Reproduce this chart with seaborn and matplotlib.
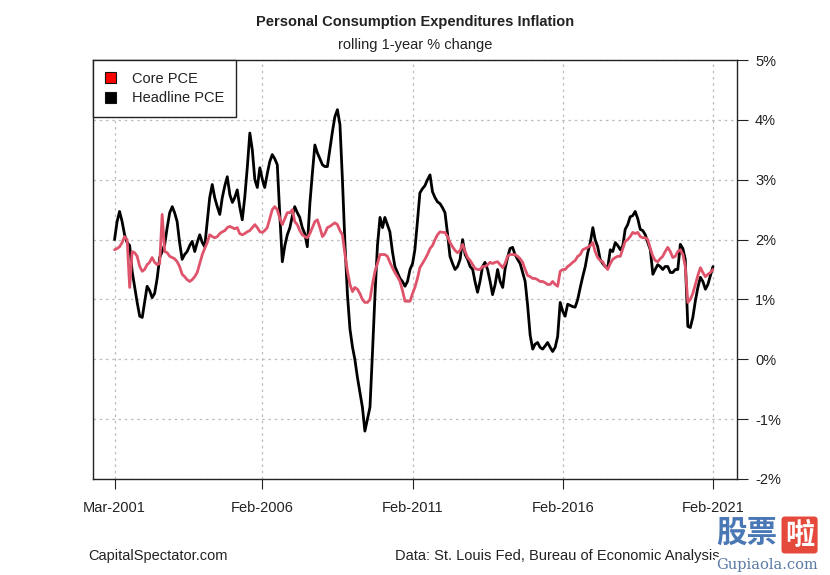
import numpy as np
import pandas as pd
import matplotlib
matplotlib.use("Agg")
import matplotlib.pyplot as plt
from matplotlib.patches import Patch
import seaborn as sns

# ---------------- data (monthly, Mar-2001 .. Feb-2021) ----------------
start_month = "2001-03-01"
n_months = 240

headline_pce = [
    2.00, 2.30, 2.47, 2.30, 2.08, 1.95, 1.90, 1.47, 1.20, 0.95,              # 2001
    0.72, 0.70, 0.95, 1.22, 1.15, 1.03, 1.10, 1.35, 1.70, 1.80, 1.92, 2.20,  # 2002
    2.45, 2.55, 2.45, 2.30, 1.95, 1.67, 1.75, 1.80, 1.90, 1.97, 1.80, 1.95,  # 2003
    2.08, 1.95, 1.88, 2.30, 2.70, 2.92, 2.70, 2.55, 2.42, 2.70, 2.90, 3.05,  # 2004
    2.75, 2.62, 2.70, 2.83, 2.55, 2.33, 2.70, 3.20, 3.78, 3.50, 3.00, 2.87,  # 2005
    3.20, 3.00, 2.87, 3.10, 3.30, 3.42, 3.35, 3.25, 2.40, 1.63, 1.90, 2.08,  # 2006
    2.20, 2.40, 2.55, 2.45, 2.37, 2.20, 2.10, 1.88, 2.60, 3.10, 3.58, 3.45,  # 2007
    3.35, 3.25, 3.22, 3.22, 3.50, 3.80, 4.05, 4.17, 3.92, 3.00, 1.92, 1.08,  # 2008
    0.50, 0.20, 0.00, -0.30, -0.55, -0.80, -1.20, -1.00, -0.80, 0.10, 1.08, 1.90,  # 2009
    2.37, 2.20, 2.37, 2.25, 2.13, 1.80, 1.55, 1.45, 1.35, 1.30, 1.22, 1.30,  # 2010
    1.50, 1.60, 1.83, 2.30, 2.78, 2.85, 2.90, 3.00, 3.08, 2.80, 2.70, 2.63,  # 2011
    2.60, 2.53, 2.45, 2.10, 1.72, 1.60, 1.50, 1.55, 1.67, 2.00, 1.75, 1.67,  # 2012
    1.55, 1.50, 1.30, 1.12, 1.30, 1.55, 1.62, 1.50, 1.30, 1.08, 1.25, 1.50,  # 2013
    1.30, 1.20, 1.50, 1.70, 1.85, 1.87, 1.75, 1.67, 1.60, 1.45, 1.30, 0.90,  # 2014
    0.40, 0.17, 0.25, 0.28, 0.20, 0.17, 0.22, 0.28, 0.20, 0.13, 0.20, 0.38,  # 2015
    0.95, 0.80, 0.72, 0.92, 0.90, 0.88, 0.87, 1.00, 1.20, 1.38, 1.55, 1.78,  # 2016
    1.95, 2.20, 2.00, 1.88, 1.67, 1.60, 1.55, 1.53, 1.83, 1.80, 1.95, 1.90,  # 2017
    1.83, 1.90, 2.17, 2.25, 2.38, 2.40, 2.47, 2.35, 2.17, 2.15, 2.08, 1.95,  # 2018
    1.83, 1.42, 1.50, 1.58, 1.55, 1.50, 1.55, 1.55, 1.45, 1.45, 1.50, 1.50,  # 2019
    1.92, 1.85, 1.67, 0.55, 0.53, 0.70, 0.97, 1.20, 1.37, 1.30, 1.17, 1.25,  # 2020
    1.40, 1.55,                                                              # 2021
]

core_pce = [
    1.83, 1.85, 1.88, 1.95, 2.05, 2.00, 1.20, 1.80, 1.78, 1.72,              # 2001
    1.55, 1.47, 1.50, 1.58, 1.62, 1.70, 1.62, 1.58, 1.60, 2.42, 1.80, 1.78,  # 2002
    1.72, 1.70, 1.68, 1.63, 1.55, 1.42, 1.38, 1.33, 1.30, 1.33, 1.38, 1.45,  # 2003
    1.60, 1.75, 1.85, 1.95, 2.08, 2.05, 2.03, 2.05, 2.10, 2.13, 2.15, 2.20,  # 2004
    2.22, 2.20, 2.18, 2.20, 2.10, 2.08, 2.10, 2.13, 2.15, 2.20, 2.25, 2.20,  # 2005
    2.13, 2.12, 2.15, 2.20, 2.35, 2.50, 2.55, 2.50, 2.35, 2.25, 2.35, 2.45,  # 2006
    2.45, 2.50, 2.30, 2.25, 2.15, 2.08, 2.05, 2.03, 2.10, 2.20, 2.30, 2.33,  # 2007
    2.20, 2.05, 2.10, 2.20, 2.22, 2.25, 2.28, 2.25, 2.15, 2.08, 1.75, 1.47,  # 2008
    1.25, 1.13, 1.20, 1.17, 1.10, 1.00, 0.95, 0.95, 1.00, 1.25, 1.47, 1.60,  # 2009
    1.75, 1.75, 1.75, 1.72, 1.62, 1.53, 1.45, 1.38, 1.30, 1.15, 0.97, 0.97,  # 2010
    0.97, 1.10, 1.20, 1.35, 1.53, 1.60, 1.67, 1.75, 1.85, 1.90, 2.00, 2.08,  # 2011
    2.13, 2.12, 2.12, 2.05, 1.95, 1.88, 1.82, 1.78, 1.82, 1.92, 1.80, 1.70,  # 2012
    1.65, 1.58, 1.52, 1.50, 1.50, 1.55, 1.55, 1.58, 1.62, 1.60, 1.62, 1.63,  # 2013
    1.58, 1.53, 1.60, 1.72, 1.75, 1.75, 1.75, 1.72, 1.68, 1.62, 1.50, 1.40,  # 2014
    1.38, 1.35, 1.35, 1.33, 1.30, 1.30, 1.28, 1.25, 1.25, 1.30, 1.25, 1.22,  # 2015
    1.47, 1.50, 1.50, 1.55, 1.58, 1.62, 1.65, 1.72, 1.75, 1.83, 1.85, 1.87,  # 2016
    1.90, 1.95, 1.80, 1.70, 1.65, 1.63, 1.55, 1.50, 1.60, 1.67, 1.70, 1.72,  # 2017
    1.72, 1.85, 1.97, 2.00, 2.05, 2.12, 2.10, 2.12, 2.05, 2.03, 2.03, 2.00,  # 2018
    1.85, 1.72, 1.65, 1.63, 1.68, 1.72, 1.80, 1.87, 1.80, 1.70, 1.72, 1.80,  # 2019
    1.83, 1.75, 1.55, 0.95, 1.00, 1.10, 1.25, 1.40, 1.53, 1.45, 1.38, 1.42,  # 2020
    1.45, 1.50,                                                              # 2021
]

series_names = ["Core PCE", "Headline PCE"]
series_colors = ["#DF536B", "#000000"]
legend_colors = ["#FF0000", "#000000"]

x_tick_dates = ["2001-03-01", "2006-02-01", "2011-02-01", "2016-02-01", "2021-02-01"]
x_tick_labels = ["Mar-2001", "Feb-2006", "Feb-2011", "Feb-2016", "Feb-2021"]
y_ticks = [-2, -1, 0, 1, 2, 3, 4, 5]
y_tick_labels = ["-2%", "-1%", "0%", "1%", "2%", "3%", "4%", "5%"]

title = "Personal Consumption Expenditures Inflation"
subtitle = "rolling 1-year % change"
left_note = "CapitalSpectator.com"
right_note = "Data: St. Louis Fed, Bureau of Economic Analysis"

# ---------------- build table ----------------
dates = pd.date_range(start_month, periods=n_months, freq="MS")
df = pd.concat([
    pd.DataFrame({"date": dates, "value": core_pce, "series": series_names[0]}),
    pd.DataFrame({"date": dates, "value": headline_pce, "series": series_names[1]}),
], ignore_index=True)

# ---------------- style ----------------
sns.set_theme(style="white")
plt.rcParams["font.family"] = ["Liberation Sans", "DejaVu Sans"]
plt.rcParams["axes.unicode_minus"] = False

W, H = 830, 575
fig = plt.figure(figsize=(W / 100, H / 100), dpi=100)
ax = fig.add_axes([93 / W, 1 - 479 / H, (737 - 93) / W, (479 - 60) / H])

# draw headline first, then core on top
sns.lineplot(data=df[df.series == series_names[1]], x="date", y="value",
             color=series_colors[1], lw=2.0, ax=ax, legend=False, zorder=3)
sns.lineplot(data=df[df.series == series_names[0]], x="date", y="value",
             color=series_colors[0], lw=2.0, ax=ax, legend=False, zorder=4)

ax.set_xlim(pd.Timestamp("2000-06-12"), pd.Timestamp("2021-11-20"))
ax.set_ylim(-2, 5)

tick_dates = pd.to_datetime(x_tick_dates)
ax.set_xticks(tick_dates)
ax.set_xticklabels(x_tick_labels, fontsize=10.5)
ax.set_yticks(y_ticks)
ax.set_yticklabels(y_tick_labels, fontsize=10.5)
ax.yaxis.tick_right()
ax.tick_params(axis="x", direction="out", length=7, width=0.8, pad=9, colors="#222222", bottom=True)
ax.tick_params(axis="y", direction="out", length=8, width=0.8, pad=5, colors="#222222", right=True, left=False)

# grid
for d in tick_dates:
    ax.axvline(d, color="#bdbdbd", lw=0.9, ls=(0, (2, 3)), zorder=1)
for v in y_ticks:
    ax.axhline(v, color="#bdbdbd", lw=0.9, ls=(0, (2, 3)), zorder=1)

for sp in ax.spines.values():
    sp.set_visible(True)
    sp.set_color("#222222")
    sp.set_linewidth(1.0)

ax.set_xlabel("")
ax.set_ylabel("")

# legend
handles = [Patch(facecolor=c, edgecolor="#111111", linewidth=0.8) for c in legend_colors]
leg = ax.legend(handles, series_names, loc="upper left", borderaxespad=0,
                frameon=True, fancybox=False, fontsize=10.5, handlelength=0.8,
                handleheight=0.8, handletextpad=1.1, borderpad=0.8, labelspacing=0.4)
leg.get_frame().set_edgecolor("#222222")
leg.get_frame().set_linewidth(1.0)
leg.get_frame().set_alpha(1)
for t in leg.get_texts():
    t.set_color("#222222")

# titles and notes
fig.text(0.5, 1 - 22 / H, title, ha="center", va="center",
         fontsize=10.5, fontweight="bold", color="#222222")
fig.text(0.5, 1 - 45 / H, subtitle, ha="center", va="center",
         fontsize=10.5, color="#222222")
fig.text(88 / W, 1 - 556 / H, left_note, ha="left", va="center", fontsize=10.5, color="#222222")
fig.text(395 / W, 1 - 556 / H, right_note, ha="left", va="center", fontsize=10.5, color="#222222")

# watermark overlay
fig.text(716 / W, 1 - 533 / H, "股票", ha="left", va="center", fontsize=22, fontweight="bold",
         color="#4a78b5", family=["Noto Sans CJK SC", "DejaVu Sans"],
         bbox=dict(facecolor="white", edgecolor="none", pad=1))
fig.text(785 / W, 1 - 535 / H, "啦", ha="left", va="center", fontsize=21, fontweight="bold",
         color="white", family=["Noto Sans CJK SC", "DejaVu Sans"],
         bbox=dict(boxstyle="round,pad=0.12", facecolor="#e5493c", edgecolor="none"))
fig.text(716 / W, 1 - 565 / H, "Gupiaola.com", ha="left", va="center", fontsize=10.5,
         color="#5a7aa5", family=["DejaVu Serif"],
         bbox=dict(facecolor="white", edgecolor="none", pad=1))

fig.savefig("out.png", dpi=100, facecolor="white")
